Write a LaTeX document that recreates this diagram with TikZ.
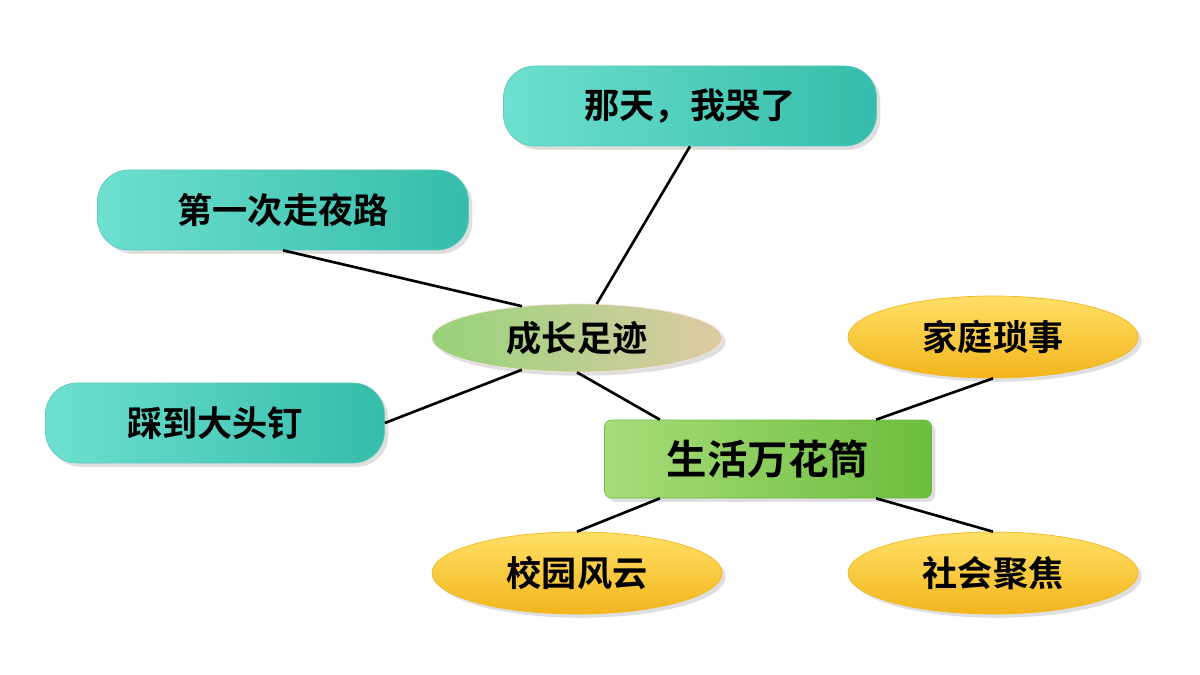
\documentclass[tikz,border=0pt]{standalone}
\usepackage{fontspec}
\newfontfamily\cjk{Noto Sans CJK SC Bold}
\usetikzlibrary{shapes.geometric,shadows}
\definecolor{tealA}{HTML}{6EE0CF}
\definecolor{tealB}{HTML}{35BCAA}
\definecolor{yelA}{HTML}{FFE066}
\definecolor{yelB}{HTML}{F2B51C}
\definecolor{grnA}{HTML}{A8DC7A}
\definecolor{grnB}{HTML}{6CBD3E}
\tikzset{
 tealbox/.style={rectangle,rounded corners=18pt,minimum width=373*0.02cm,minimum height=80*0.02cm,left color=tealA,right color=tealB,draw=tealB!80,drop shadow={opacity=0.25},font=\cjk\fontsize{20}{24}\selectfont},
 yel/.style={ellipse,minimum width=290*0.02cm,minimum height=82*0.02cm,top color=yelA,bottom color=yelB,draw=yelB,drop shadow={opacity=0.25},font=\cjk\fontsize{20}{24}\selectfont},
 link/.style={line width=1.5pt,black}
}
\begin{document}
\begin{tikzpicture}[x=0.02cm,y=-0.02cm]
\useasboundingbox (0,0) rectangle (1200,675);
\node[tealbox] (a) at (690,106) {那天，我哭了};
\node[tealbox,minimum width=371*0.02cm] (b) at (283,210) {第一次走夜路};
\node[tealbox,minimum width=339*0.02cm] (c) at (215,423) {踩到大头钉};
\node[ellipse,minimum width=290*0.02cm,minimum height=68*0.02cm,left color=grnA!90!teal,right color=pink!60!grnA,draw=pink!50,drop shadow={opacity=0.25},font=\cjk\fontsize{20}{24}\selectfont] (m) at (577,338) {成长足迹};
\node[rectangle,rounded corners=4pt,minimum width=327*0.02cm,minimum height=78*0.02cm,left color=grnA,right color=grnB,draw=grnB,drop shadow={opacity=0.25},font=\cjk\fontsize{23}{28}\selectfont] (g) at (768,459) {生活万花筒};
\node[yel] (d) at (993,337) {家庭琐事};
\node[yel] (e) at (577,573) {校园风云};
\node[yel] (f) at (993,573) {社会聚焦};
\begin{scope}[on background layer/.try]
\end{scope}
\draw[link] (b.south) ++(0,0) -- (m.150);
\draw[link] (a.south) -- (m.60);
\draw[link] (c.east) -- (m.210);
\draw[link] (m.south) -- (g.160);
\draw[link] (g.20) -- (d.south);
\draw[link] (g.200) -- (e.north);
\draw[link] (g.340) -- (f.north);
\end{tikzpicture}
\end{document}
